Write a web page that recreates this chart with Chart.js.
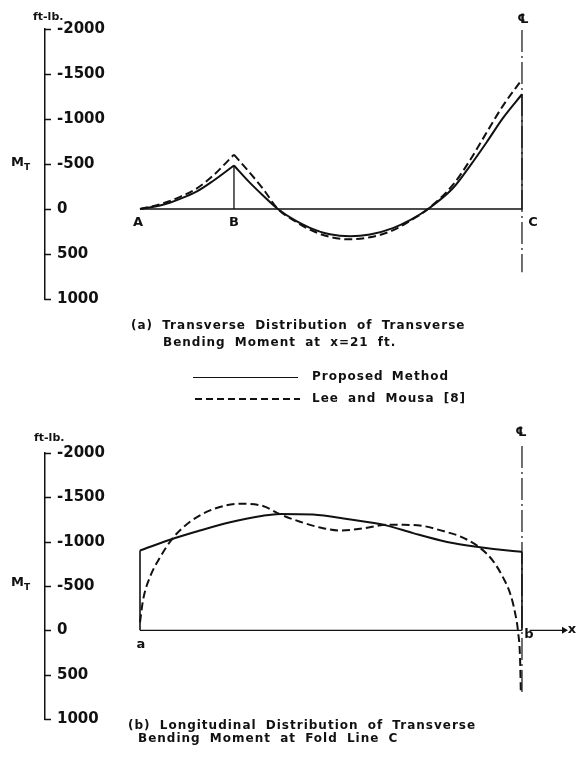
<!DOCTYPE html>
<html>
<head>
<meta charset="utf-8">
<script src="https://cdn.jsdelivr.net/npm/chart.js@4.4.1/dist/chart.umd.min.js"></script>
<style>
body { margin: 0; background: #fff; }
#wrap { position: relative; width: 576px; height: 760px; background: #fff; overflow: hidden;
        font-family: "DejaVu Sans", sans-serif; font-weight: bold; color: #111; }
canvas { position: absolute; left: 0; }
.t { position: absolute; white-space: pre; font-size: 12px; line-height: 14px; letter-spacing: 1px; word-spacing: 4px; }
.c { position: absolute; transform: translate(-50%, -50%); font-size: 13px; line-height: 14px; }
.u { position: absolute; font-size: 11px; line-height: 12px; }
.m { position: absolute; font-size: 13px; line-height: 14px; }
.m sub { font-size: 9px; vertical-align: -4px; }
.ls { position: absolute; height: 0; border-top: 1.5px solid #111; }
.ld { position: absolute; height: 2px; background: repeating-linear-gradient(90deg, #111 0 7px, transparent 7px 11px); }
</style>
</head>
<body>
<div id="wrap">
  <canvas id="top" width="576" height="320" style="top:0"></canvas>
  <canvas id="bot" width="576" height="320" style="top:420px"></canvas>

  <div class="u" style="left:33px;top:11px">ft-lb.</div>
  <div class="m" style="left:11px;top:155px">M<sub>T</sub></div>
  <div class="c" style="left:138px;top:222px">A</div>
  <div class="c" style="left:234px;top:222px">B</div>
  <div class="c" style="left:533px;top:222px">C</div>
  <div class="c" style="left:523px;top:19px">℄</div>
  <div class="t" style="left:131px;top:318px">(a) Transverse Distribution of Transverse</div>
  <div class="t" style="left:163px;top:335px">Bending Moment at x=21 ft.</div>

  <div class="ls" style="left:193px;top:377px;width:105px"></div>
  <div class="t" style="left:312px;top:369px;word-spacing:3px">Proposed Method</div>
  <div class="ld" style="left:195px;top:398px;width:105px"></div>
  <div class="t" style="left:312px;top:391px">Lee and Mousa [8]</div>

  <div class="u" style="left:34px;top:432px">ft-lb.</div>
  <div class="m" style="left:11px;top:575px">M<sub>T</sub></div>
  <div class="c" style="left:141px;top:644px">a</div>
  <div class="c" style="left:529px;top:634px">b</div>
  <div class="c" style="left:572px;top:629px">x</div>
  <div class="c" style="left:521px;top:432px">℄</div>
  <div class="t" style="left:128px;top:718px">(b) Longitudinal Distribution of Transverse</div>
  <div class="t" style="left:138px;top:731px">Bending Moment at Fold Line C</div>
</div>
<script>
// y ticks (ft-lb), negative moments plotted upward
const yTicks = [-2000, -1500, -1000, -500, 0, 500, 1000];

// (a) transverse section, A = 0, B = 2.46, C = 10 (centre line)
const secX = [0, 2.46, 10];

const topXAB = [0, 0.60, 1.05, 1.49, 1.91, 2.46];
const topSolidAB = [0, -47, -113, -195, -311, -483];
const topDashAB = [0, -62, -135, -230, -370, -604];

const topXBC = [2.46, 2.88, 3.22, 3.61, 4.06, 4.45, 4.97, 5.50, 6.02, 6.62, 7.07, 7.54, 8.19, 8.64, 9.08, 9.50, 10];
const topSolidBC = [-483, -290, -150, 0, 127, 209, 281, 304, 284, 212, 124, 0, -230, -480, -745, -1010, -1275];
const topDashBC = [-604, -400, -225, 0, 135, 230, 310, 337, 314, 238, 132, 0, -267, -542, -854, -1146, -1440];
const topCentre = [-1990, 703];

// (b) along fold line C, a = 0, b = 10
const botSolidX = [0, 0.92, 1.49, 2.36, 3.22, 3.66, 4.53, 5.42, 6.47, 7.15, 8.04, 8.90, 9.76, 10];
const botSolid = [-900, -1041, -1115, -1218, -1292, -1312, -1305, -1255, -1181, -1096, -997, -938, -894, -886];
const botDashX = [0, 0.08, 0.26, 0.52, 0.86, 1.31, 1.91, 2.62, 3.22, 3.66, 4.19, 4.71, 5.24, 5.84, 6.47, 7.15, 8.04, 8.38, 8.90, 9.24, 9.50, 9.69, 9.82, 9.90, 9.95, 9.97];
const botDash = [-90, -342, -600, -820, -1041, -1225, -1365, -1427, -1402, -1310, -1225, -1160, -1125, -1150, -1190, -1189, -1107, -1060, -931, -784, -600, -416, -195, 25, 320, 707];
const botCentre = [-2080, 730];
const xArrow = [10.2, 11.1];

const ink = '#111';
const pts = (xs, ys) => xs.map((x, i) => ({ x: x, y: ys[i] }));

const tickMarks = {
  id: 'tickMarks',
  afterDraw(chart) {
    const s = chart.scales.y, ctx = chart.ctx, left = chart.chartArea.left;
    ctx.save();
    ctx.strokeStyle = ink;
    ctx.lineWidth = 1.5;
    s.ticks.forEach(t => {
      const py = Math.round(s.getPixelForValue(t.value)) + 0.5;
      ctx.beginPath();
      ctx.moveTo(left - 0.5, py);
      ctx.lineTo(left + 6, py);
      ctx.stroke();
    });
    ctx.restore();
  }
};

function solid(data, w) {
  return { data: data, borderColor: ink, borderWidth: w || 2, cubicInterpolationMode: 'monotone', pointRadius: 0 };
}
function dashed(data) {
  return { data: data, borderColor: ink, borderWidth: 2, borderDash: [8, 4], cubicInterpolationMode: 'monotone', pointRadius: 0 };
}
function thin(data) {
  return { data: data, borderColor: ink, borderWidth: 1.3, tension: 0, pointRadius: 0, spanGaps: false };
}
function centre(x, ys) {
  return { data: [{ x: x, y: ys[0] }, { x: x, y: ys[1] }], borderColor: ink, borderWidth: 1.2,
           borderDash: [22, 4, 2, 4], tension: 0, pointRadius: 0, clip: false };
}

function options() {
  return {
    responsive: false,
    animation: false,
    layout: { padding: { left: 45, right: 6, top: 0, bottom: 18 } },
    plugins: { legend: { display: false }, tooltip: { enabled: false } },
    scales: {
      x: { type: 'linear', display: false, min: -2.487, max: 11.257 },
      y: {
        type: 'linear', reverse: true, min: -2000, max: 1000,
        afterBuildTicks: s => { s.ticks = yTicks.map(v => ({ value: v })); },
        afterFit: s => { s.width = 0; },
        border: { display: true, color: ink, width: 1.5 },
        grid: { drawOnChartArea: false, drawTicks: false },
        ticks: { mirror: true, padding: 12, color: ink, font: { family: 'DejaVu Sans', size: 15, weight: 'bold' },
                 callback: v => String(v) }
      }
    }
  };
}

// chart (a)
const optA = options();
optA.layout.padding.top = 29;
new Chart(document.getElementById('top'), {
  type: 'line',
  data: {
    datasets: [
      thin([{ x: secX[0], y: 0 }, { x: secX[2], y: 0 }, { x: secX[2], y: topSolidBC[topSolidBC.length - 1] }, { x: secX[2], y: null },
            { x: secX[1], y: 0 }, { x: secX[1], y: topSolidAB[topSolidAB.length - 1] }]),
      centre(secX[2], topCentre),
      solid(pts(topXAB, topSolidAB)),
      solid(pts(topXBC, topSolidBC)),
      dashed(pts(topXAB, topDashAB)),
      dashed(pts(topXBC, topDashBC))
    ]
  },
  options: optA,
  plugins: [tickMarks]
});

// chart (b)
const optB = options();
optB.layout.padding.top = 33;
new Chart(document.getElementById('bot'), {
  type: 'line',
  data: {
    datasets: [
      thin([{ x: botSolidX[0], y: 0 }, { x: botSolidX[botSolidX.length - 1], y: 0 }]),
      solid([{ x: botSolidX[0], y: 0 }, { x: botSolidX[0], y: botSolid[0] }], 1.6),
      solid([{ x: botSolidX[botSolidX.length - 1], y: botSolid[botSolid.length - 1] }, { x: botSolidX[botSolidX.length - 1], y: 0 }], 1.6),
      centre(botSolidX[botSolidX.length - 1], botCentre),
      { data: [{ x: xArrow[0], y: 0 }, { x: xArrow[1], y: 0 }], borderColor: ink, backgroundColor: ink, borderWidth: 1.3,
        pointRadius: [0, 4], pointStyle: 'triangle', rotation: 90, pointBorderWidth: 0 },
      solid(pts(botSolidX, botSolid)),
      dashed(pts(botDashX, botDash))
    ]
  },
  options: optB,
  plugins: [tickMarks]
});
</script>
</body>
</html>
